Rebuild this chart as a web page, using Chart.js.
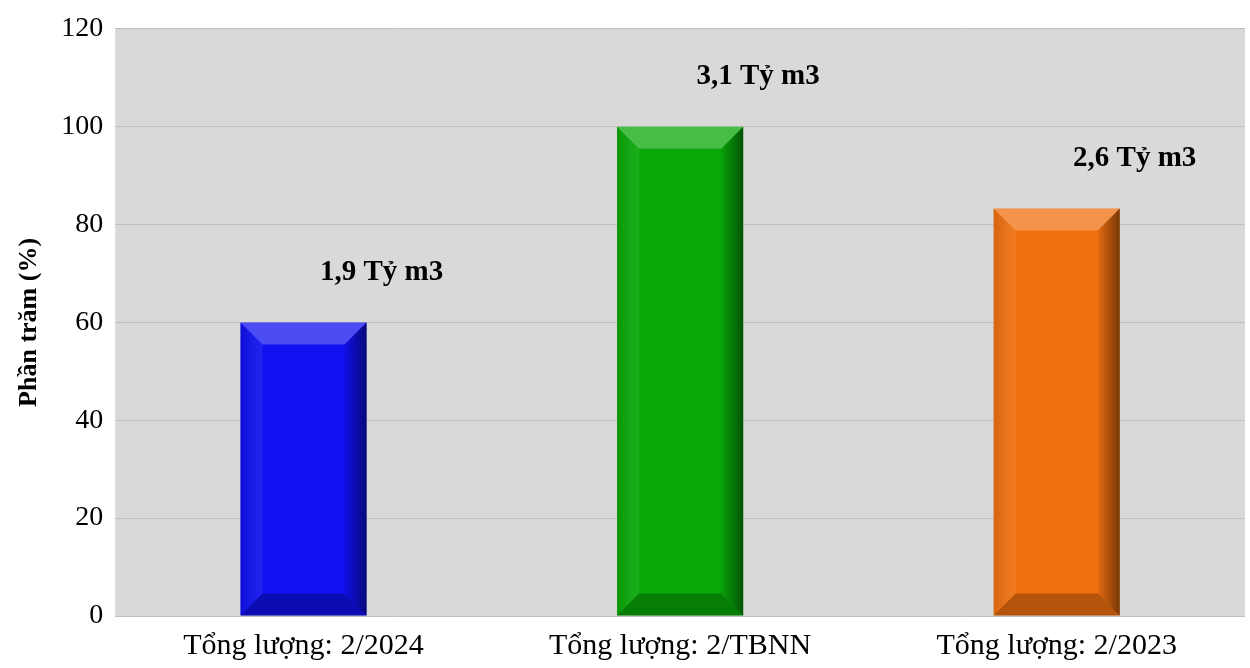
<!DOCTYPE html>
<html>
<head>
<meta charset="utf-8">
<script src="https://cdn.jsdelivr.net/npm/chart.js@4/dist/chart.umd.min.js"></script>
<style>
  html, body { margin: 0; padding: 0; background: #fff; }
  #wrap { width: 1250px; height: 668px; }
</style>
</head>
<body>
<div id="wrap"><canvas id="c"></canvas></div>
<script>
const categories = ['Tổng lượng: 2/2024', 'Tổng lượng: 2/TBNN', 'Tổng lượng: 2/2023'];
const percentValues = [60, 100, 83.3];
const volumeLabels = ['1,9 Tỷ m3', '3,1 Tỷ m3', '2,6 Tỷ m3'];
const barColors = ['#1010f0', '#08a808', '#f07010'];

// grey plot background
const plotBg = {
    id: 'plotBg',
    beforeDraw(chart) {
        const { ctx, chartArea: a } = chart;
        ctx.save();
        ctx.fillStyle = '#d9d9d9';
        ctx.fillRect(a.left, a.top, a.right - a.left, a.bottom - a.top);
        ctx.restore();
    }
};

// bevel edges + value labels
const bevel = {
    id: 'bevel',
    afterDatasetsDraw(chart) {
        const ctx = chart.ctx;
        const meta = chart.getDatasetMeta(0);
        meta.data.forEach((bar, i) => {
            const l = bar.x - bar.width / 2, r = bar.x + bar.width / 2;
            const t = bar.y, b = bar.base, d = 22;
            ctx.save();
            const side = (pts, style) => {
                ctx.beginPath();
                ctx.moveTo(pts[0][0], pts[0][1]);
                pts.slice(1).forEach(p => ctx.lineTo(p[0], p[1]));
                ctx.closePath();
                ctx.fillStyle = style;
                ctx.fill();
            };
            side([[l, t], [r, t], [r - d, t + d], [l + d, t + d]], 'rgba(255,255,255,0.25)');
            side([[l, b], [r, b], [r - d, b - d], [l + d, b - d]], 'rgba(0,0,0,0.25)');
            const gl = ctx.createLinearGradient(l, 0, l + d, 0);
            gl.addColorStop(0, 'rgba(0,0,0,0.1)');
            gl.addColorStop(1, 'rgba(255,255,255,0.08)');
            side([[l, t], [l + d, t + d], [l + d, b - d], [l, b]], gl);
            const gr = ctx.createLinearGradient(r - d, 0, r, 0);
            gr.addColorStop(0, 'rgba(0,0,0,0.05)');
            gr.addColorStop(1, 'rgba(0,0,0,0.5)');
            side([[r, t], [r - d, t + d], [r - d, b - d], [r, b]], gr);
            ctx.fillStyle = '#000';
            ctx.font = 'bold 29px "Liberation Serif"';
            ctx.textAlign = 'center';
            ctx.textBaseline = 'middle';
            ctx.fillText(volumeLabels[i], bar.x + 78, t - 50);
            ctx.restore();
        });
    }
};

new Chart(document.getElementById('c').getContext('2d'), {
    type: 'bar',
    data: {
        labels: categories,
        datasets: [{
            data: percentValues,
            backgroundColor: barColors,
            barPercentage: 0.335,
            categoryPercentage: 1
        }]
    },
    options: {
        responsive: true,
        maintainAspectRatio: false,
        animation: false,
        layout: { padding: { top: -16, right: 5, left: 10 } },
        scales: {
            x: {
                grid: { display: false },
                border: { display: false },
                ticks: { color: '#000', font: { family: 'Liberation Serif', size: 30 }, padding: 4 }
            },
            y: {
                min: 0, max: 120,
                ticks: { stepSize: 20, color: '#000', font: { family: 'Liberation Serif', size: 28 }, padding: 12 },
                grid: { color: '#bfbfbf', drawTicks: false },
                border: { display: false },
                title: { display: true, text: 'Phần trăm (%)', color: '#000', font: { family: 'Liberation Serif', size: 26, weight: 'bold' } }
            }
        },
        plugins: { legend: { display: false }, tooltip: { enabled: false } }
    },
    plugins: [plotBg, bevel]
});
</script>
</body>
</html>
